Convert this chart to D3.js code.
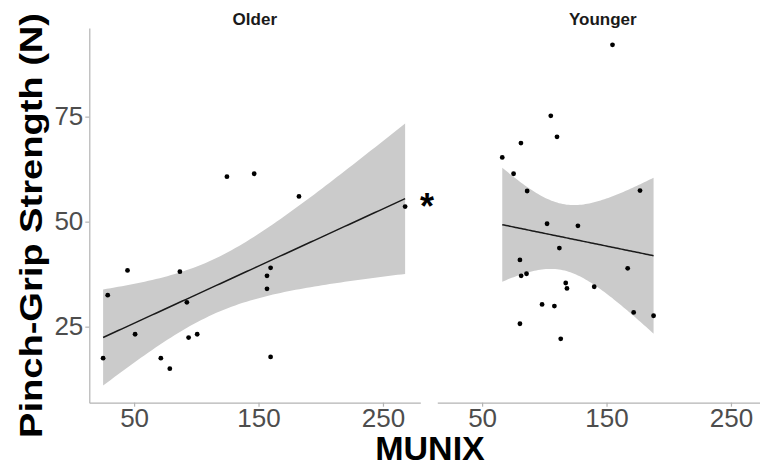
<!DOCTYPE html>
<html>
<head>
<meta charset="utf-8">
<script src="https://cdn.jsdelivr.net/npm/d3@7"></script>
<style>
  body { margin: 0; background: #fff; }
  svg { font-family: "Liberation Sans", Arial, sans-serif; }
  .axis path, .axis line { stroke: #b3b3b3; stroke-width: 1.2; }
  .axis text { fill: #4d4d4d; font-size: 26px; }
</style>
</head>
<body>
<svg width="760" height="468"></svg>
<script>
  // values
  const groups = ['Older', 'Younger'];

  const olderMunix    = [25.1, 28.8, 44.7, 50.8, 71.5, 78.7, 86.8, 92.4, 93.8, 100.7, 124.6, 146.5, 156.8, 156.8, 159.7, 159.7, 182.5, 267.8];
  const olderStrength = [17.5, 32.5, 38.4, 23.2, 17.5, 15.0, 38.1, 30.8, 22.4, 23.2, 60.7, 61.4, 34.0, 37.1, 39.0, 17.8, 56.0, 53.6];

  const youngerMunix    = [154.8, 105.2, 110.2, 81.2, 66.2, 75.3, 86.2, 176.9, 102.2, 127.0, 112.1, 80.4, 81.4, 85.7, 117.2, 118.2, 140.1, 167.0, 98.2, 108.1, 80.4, 171.8, 187.8, 113.2];
  const youngerStrength = [92.1, 75.2, 70.2, 68.7, 65.3, 61.4, 57.3, 57.4, 49.5, 49.0, 43.7, 40.9, 37.1, 37.6, 35.4, 34.1, 34.5, 38.9, 30.3, 29.9, 25.7, 28.4, 27.6, 22.1];

  const xTicks = [50, 150, 250];
  const yTicks = [25, 50, 75];

  // t quantiles (0.975) for n-2 degrees of freedom
  const tQuantile = { 16: 2.1199, 22: 2.0739 };

  const svg = d3.select('svg');

  const panelW = 331, panelTop = 28, panelBottom = 402.7;
  const panelX = [89.3, 437.3];

  const x = d3.scaleLinear().domain([14, 280]).range([0, panelW]);
  const y = d3.scaleLinear().domain([6.9, 96.1]).range([panelBottom, panelTop]);

  const lmBand = (xs, ys) => {
    const n = xs.length;
    const mx = d3.mean(xs), my = d3.mean(ys);
    let sxx = 0, sxy = 0;
    xs.forEach((v, i) => { sxx += (v - mx) ** 2; sxy += (v - mx) * (ys[i] - my); });
    const b = sxy / sxx, a = my - b * mx;
    const rss = d3.sum(xs, (v, i) => (ys[i] - a - b * v) ** 2);
    const s = Math.sqrt(rss / (n - 2));
    const t = tQuantile[n - 2];
    const [lo, hi] = d3.extent(xs);
    return d3.range(0, 81).map(k => {
      const xv = lo + (hi - lo) * k / 80;
      const fit = a + b * xv;
      const se = s * Math.sqrt(1 / n + (xv - mx) ** 2 / sxx);
      return { x: xv, fit, lower: fit - t * se, upper: fit + t * se };
    });
  };

  const datasets = [
    { name: groups[0], xs: olderMunix, ys: olderStrength },
    { name: groups[1], xs: youngerMunix, ys: youngerStrength }
  ];

  svg.append('defs').append('clipPath').attr('id', 'panel-clip')
    .append('rect')
    .attr('x', 0).attr('y', panelTop)
    .attr('width', panelW).attr('height', panelBottom - panelTop);

  datasets.forEach((ds, i) => {
    const g = svg.append('g').attr('transform', `translate(${panelX[i]},0)`);
    const band = lmBand(ds.xs, ds.ys);

    const plot = g.append('g').attr('clip-path', 'url(#panel-clip)');

    plot.append('path')
      .datum(band)
      .attr('fill', '#cbcbcb')
      .attr('d', d3.area().x(d => x(d.x)).y0(d => y(d.lower)).y1(d => y(d.upper)));

    plot.append('path')
      .datum(band)
      .attr('fill', 'none')
      .attr('stroke', '#1a1a1a')
      .attr('stroke-width', 1.5)
      .attr('d', d3.line().x(d => x(d.x)).y(d => y(d.fit)));

    plot.selectAll('circle')
      .data(ds.xs.map((v, k) => [v, ds.ys[k]]))
      .enter()
      .append('circle')
      .attr('cx', d => x(d[0]))
      .attr('cy', d => y(d[1]))
      .attr('r', 2.4)
      .attr('fill', '#000');

    // x axis
    g.append('g')
      .attr('class', 'axis')
      .attr('transform', `translate(0,${panelBottom})`)
      .call(d3.axisBottom(x).tickValues(xTicks).tickSize(4).tickSizeOuter(0).tickPadding(2));

    // facet label
    g.append('text')
      .attr('x', panelW / 2)
      .attr('y', 25)
      .attr('text-anchor', 'middle')
      .attr('font-size', 17)
      .attr('font-weight', 'bold')
      .attr('fill', '#1a1a1a')
      .text(ds.name);

    if (i === 0) {
      g.append('g')
        .attr('class', 'axis')
        .call(d3.axisLeft(y).tickValues(yTicks).tickSize(4).tickSizeOuter(0).tickPadding(2));
    }
  });

  // significance mark
  svg.append('text')
    .attr('x', 427)
    .attr('y', 219)
    .attr('text-anchor', 'middle')
    .attr('font-size', 36)
    .attr('font-weight', 'bold')
    .text('*');

  // axis titles
  svg.append('text')
    .attr('x', 430)
    .attr('y', 460)
    .attr('text-anchor', 'middle')
    .attr('font-size', 34)
    .attr('font-weight', 'bold')
    .text('MUNIX');

  svg.append('text')
    .attr('transform', 'translate(42,225.5) rotate(-90)')
    .attr('text-anchor', 'middle')
    .attr('font-size', 31)
    .attr('font-weight', 'bold')
    .attr('textLength', 425)
    .attr('lengthAdjust', 'spacingAndGlyphs')
    .text('Pinch-Grip Strength (N)');
</script>
</body>
</html>
